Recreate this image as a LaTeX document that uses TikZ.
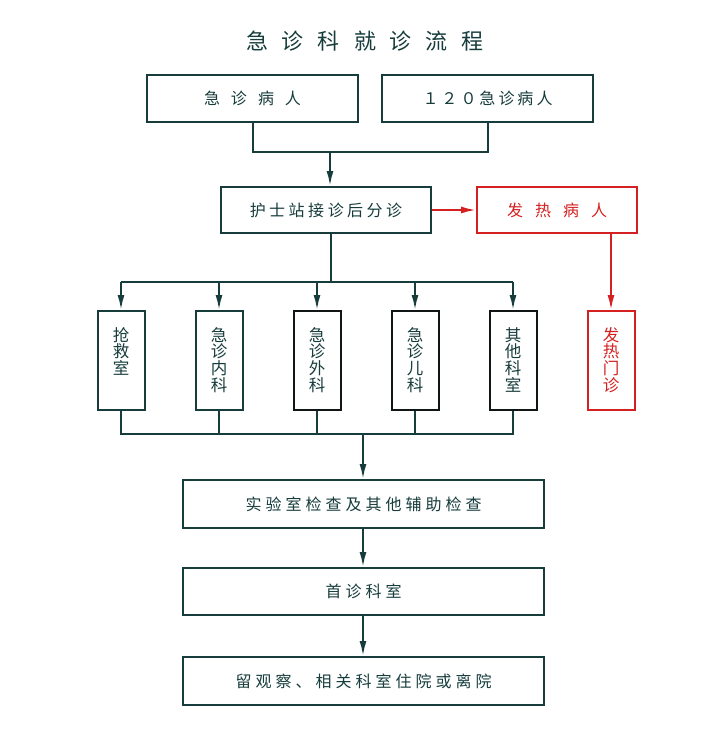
\documentclass[tikz,border=0pt]{standalone}
\usepackage{fontspec}
\setmainfont{Noto Sans CJK SC}
\usetikzlibrary{arrows.meta}
\definecolor{dk}{HTML}{173C3C}
\definecolor{bk}{HTML}{101616}
\definecolor{rd}{HTML}{D42020}
\makeatletter
\newcommand\lsp[2]{\def\lsp@gap{}\@tfor\lsp@c:=#2\do{\lsp@gap\lsp@c\def\lsp@gap{\hspace{#1}}}}
\makeatother
\begin{document}
\begin{tikzpicture}[x=1pt,y=-1pt,
  hbox/.style={draw=dk,line width=2pt,fill=white,text=dk,inner sep=0pt,
    minimum height=47pt,font=\fontsize{16}{16}\selectfont},
  vbox/.style={draw=dk,line width=2pt,fill=white,inner sep=0pt,
    minimum width=47pt,minimum height=99pt},
  vtext/.style={text=dk,inner sep=0pt,align=center,anchor=north,
    font=\fontsize{16.5}{16.8}\selectfont},
  conn/.style={draw=dk,line width=2pt},
  arr/.style={conn,-{Latex[length=15pt,width=7pt]}},
  rarr/.style={draw=rd,line width=2pt,-{Latex[length=15pt,width=7pt]}},
]
\useasboundingbox (0,0) rectangle (720,750);
\fill[white] (0,0) rectangle (720,750);

\node[text=dk,font=\fontsize{22}{22}\selectfont] (title) at (365,41) {\lsp{14pt}{急诊科就诊流程}};

\node[hbox,minimum width=211pt] (n1) at (252.5,98) {\lsp{11pt}{急诊病人}};
\node[hbox,minimum width=211pt] (n2) at (487.5,98) {\lsp{3pt}{１２０急诊病人}};
\node[hbox,minimum width=210pt,minimum height=46pt] (n3) at (326,210) {\lsp{3.5pt}{护士站接诊后分诊}};
\node[hbox,draw=rd,text=rd,minimum width=160pt,minimum height=46pt] (nr) at (557,210) {\lsp{12pt}{发热病人}};

\coordinate (j1) at (330,152);
\draw[conn] (n1.south) |- (j1);
\draw[conn] (n2.south) |- (j1);
\draw[arr] (j1) -- (j1 |- n3.north);
\draw[rarr] (n3.east) -- (nr.west);

\node[vbox] (f1) at (121,360.5) {};
\node[vbox] (f2) at (219,360.5) {};
\node[vbox,draw=bk] (f3) at (317,360.5) {};
\node[vbox,draw=bk] (f4) at (415,360.5) {};
\node[vbox,draw=bk] (f5) at (513,360.5) {};
\node[vbox,draw=rd] (f6) at (611,360.5) {};

\node[vtext] (t1) at (121,327) {抢\\救\\室};
\node[vtext] (t2) at (219,327) {急\\诊\\内\\科};
\node[vtext] (t3) at (317,327) {急\\诊\\外\\科};
\node[vtext] (t4) at (415,327) {急\\诊\\儿\\科};
\node[vtext] (t5) at (513,327) {其\\他\\科\\室};
\node[vtext,text=rd] (t6) at (611,327) {发\\热\\门\\诊};

\coordinate (j2) at (331,282);
\draw[conn] (n3.south -| j2) -- (j2);
\draw[conn] (f1.north |- j2) -- (f5.north |- j2);
\foreach \f in {f1,f2,f3,f4,f5} \draw[arr] (\f.north |- j2) -- (\f.north);
\draw[rarr] (nr.south -| f6.north) -- (f6.north);

\node[hbox,minimum width=361pt,minimum height=48pt] (m1) at (363.5,504) {\lsp{4pt}{实验室检查及其他辅助检查}};
\node[hbox,minimum width=361pt] (m2) at (363.5,591.5) {\lsp{4pt}{首诊科室}};
\node[hbox,minimum width=361pt,minimum height=48pt] (m3) at (363.5,681) {\lsp{4pt}{留观察、相关科室住院或离院}};

\coordinate (j3) at (363,434);
\draw[conn] (f1.south) |- (j3);
\draw[conn] (f5.south) |- (j3);
\foreach \f in {f2,f3,f4} \draw[conn] (\f.south) -- (\f.south |- j3);
\draw[arr] (j3) -- (j3 |- m1.north);
\draw[arr] (m1.south -| j3) -- (m2.north -| j3);
\draw[arr] (m2.south -| j3) -- (m3.north -| j3);
\end{tikzpicture}
\end{document}
